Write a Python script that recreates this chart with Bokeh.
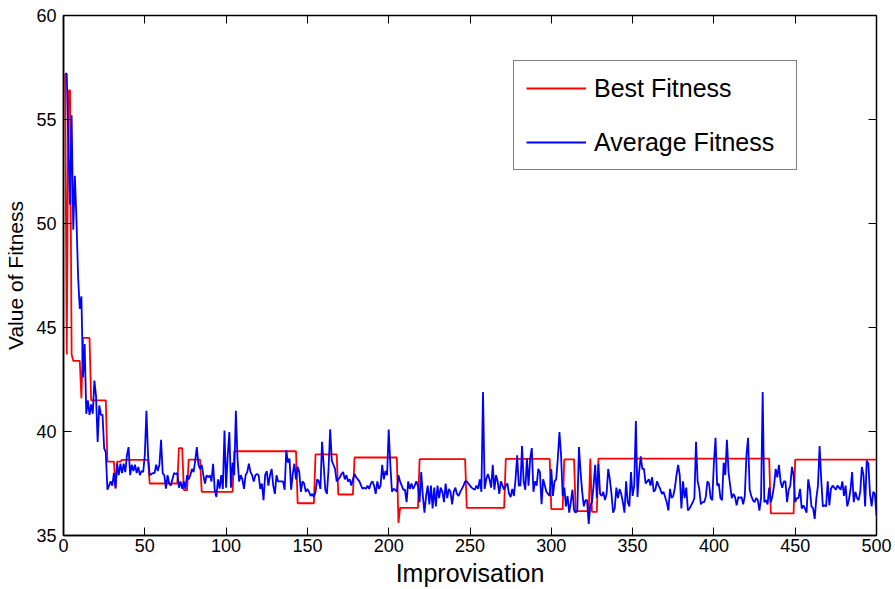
from bokeh.plotting import figure
from bokeh.models import (Range1d, LinearAxis, FixedTicker, Legend, LegendItem,
                          CustomJSTickFormatter)
from bokeh.embed import file_html
from bokeh.resources import INLINE

iterations = list(range(1, 501))

best_fitness = ([57.2, 43.7, 56.4, 56.4, 43.7] + [43.4] * 5 + [41.6] + [44.5] * 5
                + [41.5] * 10 + [38.55] * 5 + [37.25] + [38.55] * 3 + [38.64] * 17
                + [37.5] * 18 + [39.2] * 3 + [37.18] * 3 + [38.65] * 8 + [37.1] * 20
                + [39.05] * 39 + [36.55] * 11 + [38.9] * 14 + [36.97] * 10
                + [38.75] * 27 + [35.6] + [36.33] * 12 + [38.67] * 29 + [36.33] * 24
                + [38.68] * 28 + [36.27] * 8 + [38.66] * 7 + [36.17] * 9 + [38.7]
                + [36.14] * 4 + [38.7] * 106 + [36.06] * 15 + [38.65] * 51)

average_fitness = [
    57.2, 57.2, 53.8, 50.9, 55.2, 49.7, 52.3, 50.1, 47.4, 45.9,
    46.5, 42.6, 44.2, 40.85, 41.5, 40.8, 41.3, 40.85, 42.45, 41.7,
    39.5, 41.25, 40.8, 40.8, 39.2, 39.0, 37.2, 37.4, 37.6, 37.4,
    38.0, 37.3, 38.45, 37.9, 38.45, 38.0, 38.45, 38.05, 38.85, 39.25,
    37.9, 38.4, 38.1, 38.4, 38.0, 38.3, 37.9, 38.1, 38.05, 38.85,
    41.0, 38.85, 37.9, 37.96, 38.0, 38.0, 38.4, 38.1, 38.4, 39.6,
    38.0, 37.9, 37.25, 37.9, 37.5, 37.4, 37.7, 38.0, 37.96, 38.0,
    37.3, 37.6, 37.25, 37.6, 37.25, 37.9, 37.7, 37.9, 38.2, 38.05,
    38.6, 39.25, 38.4, 38.2, 38.4, 37.9, 37.5, 37.9, 37.8, 37.9,
    37.6, 38.45, 37.2, 36.85, 37.7, 37.25, 37.9, 37.24, 40.05, 37.3,
    38.85, 39.97, 37.3, 38.5, 37.9, 41.0, 38.7, 37.6, 37.9, 37.7,
    37.24, 37.9, 38.05, 38.45, 38.05, 37.9, 37.6, 37.9, 37.96, 37.9,
    37.24, 37.5, 36.7, 37.9, 38.1, 37.4, 37.9, 38.2, 37.4, 37.0,
    37.9, 37.6, 37.6, 37.6, 37.6, 37.2, 39.1, 38.5, 38.7, 37.2,
    37.96, 38.45, 37.7, 38.3, 38.05, 37.1, 37.6, 37.5, 37.1, 37.24,
    37.1, 36.9, 37.0, 36.85, 37.1, 37.7, 37.6, 37.24, 39.5, 38.4,
    37.2, 37.0, 38.2, 40.1, 38.6, 38.4, 38.2, 37.6, 37.7, 37.8,
    37.96, 38.05, 37.7, 37.9, 37.6, 37.7, 37.4, 37.7, 37.96, 37.8,
    37.7, 37.6, 37.4, 37.24, 37.3, 37.24, 37.4, 37.24, 37.5, 37.6,
    37.4, 37.0, 37.6, 37.24, 37.4, 38.4, 37.7, 38.1, 37.9, 40.1,
    38.4, 37.1, 37.24, 37.2, 37.1, 37.9, 37.6, 37.4, 37.2, 37.2,
    36.6, 37.6, 37.24, 37.5, 37.24, 37.4, 37.6, 37.4, 36.6, 38.05,
    36.9, 36.1, 36.9, 37.4, 36.5, 37.4, 36.3, 37.3, 36.4, 37.4,
    36.8, 37.3, 37.1, 36.6, 37.5, 36.8, 37.24, 37.1, 36.5, 37.1,
    37.3, 37.0, 36.9, 37.1, 37.24, 37.4, 37.6, 37.6, 37.5, 37.4,
    37.3, 37.24, 37.2, 37.4, 37.24, 37.7, 37.1, 41.9, 37.24, 37.7,
    37.96, 37.7, 37.3, 38.4, 37.2, 37.9, 37.6, 37.0, 37.6, 37.4,
    37.2, 37.4, 37.5, 37.0, 36.85, 37.24, 36.9, 37.7, 38.85, 37.4,
    37.4, 39.3, 37.6, 37.2, 38.7, 37.4, 38.7, 39.2, 37.1, 37.6,
    37.4, 38.2, 38.05, 36.5, 37.7, 37.4, 37.1, 37.0, 36.9, 38.2,
    36.9, 37.6, 37.7, 38.7, 39.97, 38.85, 36.9, 37.3, 36.4, 36.9,
    36.1, 36.6, 37.2, 36.2, 36.1, 36.2, 39.25, 38.05, 37.1, 36.4,
    36.7, 36.7, 35.55, 36.45, 36.6, 37.4, 38.4, 36.8, 38.45, 37.0,
    36.9, 37.1, 36.7, 37.0, 38.2, 37.7, 37.0, 36.1, 36.3, 37.3,
    36.8, 37.24, 37.0, 36.6, 36.1, 37.6, 36.6, 36.4, 38.05, 36.9,
    37.4, 40.5, 36.85, 38.05, 38.8, 38.2, 38.2, 37.5, 37.6, 37.7,
    37.4, 37.8, 37.1, 37.2, 37.6, 37.4, 37.24, 37.0, 37.1, 36.85,
    36.6, 36.2, 37.24, 36.8, 36.9, 37.3, 37.9, 38.4, 37.9, 36.3,
    37.6, 36.8, 37.3, 36.2, 36.3, 36.45, 36.6, 36.8, 39.5, 37.6,
    37.24, 36.5, 36.6, 36.6, 36.85, 37.6, 37.5, 36.8, 36.7, 38.5,
    39.7, 37.4, 37.5, 36.8, 36.7, 38.5, 37.9, 39.6, 38.05, 37.4,
    36.8, 37.0, 36.85, 36.45, 36.85, 36.8, 36.85, 36.5, 36.9, 38.85,
    39.7, 37.2, 36.9, 36.7, 36.6, 36.8, 36.7, 36.2, 36.8, 41.9,
    36.6, 36.7, 36.5, 37.3, 36.6, 36.9, 37.4, 38.2, 37.8, 38.4,
    37.6, 37.3, 37.6, 37.6, 36.6, 37.2, 37.4, 38.3, 37.9, 36.6,
    36.8, 36.8, 37.24, 36.3, 36.45, 36.3, 36.1, 37.7, 37.24, 36.4,
    36.3, 35.8, 36.8, 37.4, 39.3, 37.7, 36.4, 36.45, 36.4, 37.6,
    36.45, 37.24, 37.4, 37.3, 37.2, 37.4, 37.3, 37.2, 37.6, 36.9,
    37.4, 36.4, 36.7, 37.2, 38.05, 36.6, 37.1, 36.8, 36.7, 37.1,
    38.3, 37.9, 36.4, 38.6, 38.45, 37.0, 36.4, 37.1, 37.0, 35.95,
]

x_ticks = [0, 50, 100, 150, 200, 250, 300, 350, 400, 450, 500]
y_ticks = [35, 40, 45, 50, 55, 60]
x_label = "Improvisation"
y_label = "Value of Fitness"
series_names = ["Best Fitness", "Average Fitness"]

FONT = "Liberation Sans"

p = figure(width=895, height=589,
           x_range=Range1d(0, 500), y_range=Range1d(35, 60),
           output_backend="svg", toolbar_location=None,
           min_border_left=63, min_border_right=19,
           min_border_top=15, min_border_bottom=54)

p.background_fill_color = "white"
p.border_fill_color = "white"
p.outline_line_color = "black"
p.outline_line_width = 1.5
p.xgrid.visible = False
p.ygrid.visible = False

p.xaxis.ticker = FixedTicker(ticks=x_ticks)
p.yaxis.ticker = FixedTicker(ticks=y_ticks)
p.xaxis.axis_label = x_label
p.yaxis.axis_label = y_label

for ax in (p.xaxis[0], p.yaxis[0]):
    ax.major_tick_in = 8
    ax.major_tick_out = 0
    ax.minor_tick_line_color = None
    ax.axis_line_color = "black"
    ax.axis_line_width = 1.5
    ax.major_tick_line_color = "black"
    ax.major_label_text_font = FONT
    ax.major_label_text_font_size = "18px"
    ax.major_label_text_color = "black"
    ax.axis_label_text_font = FONT
    ax.axis_label_text_font_style = "normal"
    ax.axis_label_text_color = "black"

p.xaxis.major_label_standoff = 3
p.xaxis.axis_label_text_font_size = "25px"
p.xaxis.axis_label_standoff = 4
p.yaxis.major_label_standoff = 7
p.yaxis.axis_label_text_font_size = "21px"
p.yaxis.axis_label_standoff = 6

blank = CustomJSTickFormatter(code="return ''")
top_ax = LinearAxis(ticker=FixedTicker(ticks=x_ticks), formatter=blank,
                    major_tick_in=8, major_tick_out=0, minor_tick_line_color=None,
                    major_label_standoff=0, major_label_text_font_size="1px",
                    axis_line_color=None, major_tick_line_color="black")
right_ax = LinearAxis(ticker=FixedTicker(ticks=y_ticks), formatter=blank,
                      major_tick_in=8, major_tick_out=0, minor_tick_line_color=None,
                      major_label_standoff=0, major_label_text_font_size="1px",
                      axis_line_color=None, major_tick_line_color="black")
p.add_layout(top_ax, "above")
p.add_layout(right_ax, "right")

r_best = p.line(iterations, best_fitness, line_color="#ff0000", line_width=1.8)
r_avg = p.line(iterations, average_fitness, line_color="#0000ff", line_width=1.8)

legend = Legend(items=[LegendItem(label=series_names[0], renderers=[r_best]),
                       LegendItem(label=series_names[1], renderers=[r_avg])],
                location=(450, 365))
legend.border_line_color = "black"
legend.border_line_width = 1
legend.background_fill_color = "white"
legend.background_fill_alpha = 1.0
legend.padding = 12
legend.spacing = 24
legend.margin = 0
legend.glyph_width = 60
legend.glyph_height = 30
legend.label_height = 30
legend.label_width = 190
legend.label_standoff = 8
legend.label_text_font = FONT
legend.label_text_font_size = "25px"
legend.label_text_color = "black"
p.add_layout(legend)

open("out.html", "w").write(file_html(p, INLINE))
